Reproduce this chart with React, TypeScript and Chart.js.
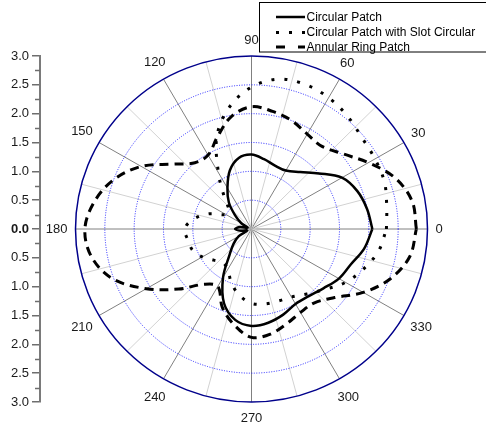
import React, { useEffect, useRef } from 'react';
import { Chart, registerables } from 'chart.js';

Chart.register(...registerables);

// ---------- data ----------
const ANGLES = [0, 10, 20, 30, 40, 50, 60, 70, 80, 90, 100, 110, 120, 130, 140, 150, 160, 170,
  180, 190, 200, 210, 220, 230, 240, 250, 260, 270, 280, 290, 300, 310, 320, 330, 340, 350];

const CIRCULAR_PATCH = [2.06, 2.0, 1.92, 1.78, 1.5, 1.29, 1.17, 1.17, 1.23, 1.29, 1.25, 1.08,
  0.82, 0.6, 0.36, 0.2, 0.07, 0.2, 0.28, 0.18, 0.08, 0.25, 0.4, 0.58, 0.97, 1.37, 1.6, 1.68,
  1.65, 1.58, 1.5, 1.52, 1.6, 1.72, 1.8, 1.95];

const SLOT_CIRCULAR = [2.3, 2.34, 2.41, 2.43, 2.46, 2.55, 2.63, 2.67, 2.64, 2.46, 2.15, 1.72,
  1.13, 0.72, 0.5, 0.5, 0.77, 1.0, 1.14, 1.1, 1.07, 0.97, 0.84, 0.76, 0.81, 1.0, 1.17, 1.29,
  1.32, 1.33, 1.36, 1.47, 1.63, 1.85, 2.03, 2.2];

const ANNULAR_RING = [2.81, 2.78, 2.6, 2.3, 2.03, 1.87, 1.9, 2.0, 2.07, 2.12, 1.98, 1.7,
  1.48, 1.5, 1.75, 2.17, 2.5, 2.72, 2.84, 2.77, 2.52, 2.07, 1.62, 1.25, 1.15, 1.45, 1.69, 1.88,
  1.85, 1.75, 1.67, 1.67, 1.85, 2.2, 2.52, 2.74];

const SERIES_NAMES = ['Circular Patch', 'Circular Patch with Slot Circular', 'Annular Ring Patch'];
const ANGLE_LABELS = [0, 30, 60, 90, 120, 150, 180, 210, 240, 270, 300, 330];
const RADIAL_RINGS = [0.5, 1.0, 1.5, 2.0, 2.5];
const R_MAX = 3;

// ---------- layout constants ----------
const FONT = '"Liberation Sans", Arial, Helvetica, sans-serif';
const CX_PX = 251.5;
const KX = 176 / 3;
const AREA_LEFT = 40;
const AREA_RIGHT = 486;
const X_MIN = (AREA_LEFT - CX_PX) / KX;
const X_MAX = (AREA_RIGHT - CX_PX) / KX;

function toXY(r: number[]) {
  const pts = ANGLES.map((a, i) => ({
    x: r[i] * Math.cos((a * Math.PI) / 180),
    y: r[i] * Math.sin((a * Math.PI) / 180),
  }));
  pts.push({ ...pts[0] });
  return pts;
}

const polarGrid = {
  id: 'polarGrid',
  beforeDatasetsDraw(chart: any) {
    const { ctx, scales } = chart;
    const x = scales.x;
    const y = scales.y;
    const cx = x.getPixelForValue(0);
    const cy = y.getPixelForValue(0);
    const rx = (v: number) => x.getPixelForValue(v) - cx;
    const ry = (v: number) => cy - y.getPixelForValue(v);
    ctx.save();
    // radial spokes
    for (let a = 0; a < 360; a += 15) {
      const major = a % 30 === 0;
      const t = (a * Math.PI) / 180;
      ctx.strokeStyle = major ? '#808080' : '#d2d2d2';
      ctx.lineWidth = 1;
      ctx.beginPath();
      ctx.moveTo(cx, cy);
      ctx.lineTo(x.getPixelForValue(R_MAX * Math.cos(t)), y.getPixelForValue(R_MAX * Math.sin(t)));
      ctx.stroke();
    }
    // dotted rings
    ctx.strokeStyle = '#2323ff';
    ctx.lineWidth = 1;
    ctx.setLineDash([1, 1.5]);
    RADIAL_RINGS.forEach((r) => {
      ctx.beginPath();
      ctx.ellipse(cx, cy, rx(r), ry(r), 0, 0, Math.PI * 2);
      ctx.stroke();
    });
    ctx.setLineDash([]);
    // outer ring
    ctx.strokeStyle = '#00008b';
    ctx.lineWidth = 1.5;
    ctx.beginPath();
    ctx.ellipse(cx, cy, rx(R_MAX), ry(R_MAX), 0, 0, Math.PI * 2);
    ctx.stroke();
    // angle labels
    ctx.fillStyle = '#1a1a1a';
    ctx.font = `13px ${FONT}`;
    ctx.textAlign = 'center';
    ctx.textBaseline = 'middle';
    ANGLE_LABELS.forEach((a) => {
      const t = (a * Math.PI) / 180;
      const txt = String(a);
      const w = ctx.measureText(txt).width;
      const h = 9.4;
      const d = 184 + Math.abs(Math.cos(t)) * w / 2 + Math.abs(Math.sin(t)) * h / 2;
      ctx.fillText(txt, cx + d * Math.cos(t), cy - d * Math.sin(t) + 0.5);
    });
    ctx.restore();
  },
  afterDraw(chart: any) {
    const { ctx, scales, chartArea } = chart;
    const y = scales.y;
    ctx.save();
    // minor ticks on left axis
    ctx.strokeStyle = '#6e6e6e';
    ctx.lineWidth = 1.5;
    for (let v = -2.75; v <= 2.8; v += 0.5) {
      const py = Math.round(y.getPixelForValue(v)) + 0.5;
      ctx.beginPath();
      ctx.moveTo(chartArea.left - 5, py);
      ctx.lineTo(chartArea.left, py);
      ctx.stroke();
    }
    // legend
    ctx.strokeStyle = '#000';
    ctx.lineWidth = 1;
    ctx.strokeRect(259.5, 2.5, 240, 49.5);
    const rows = [17, 32.5, 47];
    const legendDash = [[], [3, 10], [9, 13]];
    chart.data.datasets.forEach((ds: any, i: number) => {
      ctx.strokeStyle = '#000';
      ctx.lineWidth = ds.borderWidth;
      ctx.lineCap = 'butt';
      ctx.setLineDash(legendDash[i]);
      ctx.beginPath();
      ctx.moveTo(276, rows[i]);
      ctx.lineTo(305, rows[i]);
      ctx.stroke();
      ctx.setLineDash([]);
      ctx.fillStyle = '#000';
      ctx.font = `12px ${FONT}`;
      ctx.textAlign = 'left';
      ctx.textBaseline = 'middle';
      ctx.fillText(ds.label, 306.5, rows[i] + 0.5);
    });
    ctx.restore();
  },
};

export default function App() {
  const ref = useRef<HTMLCanvasElement>(null);
  useEffect(() => {
    if (!ref.current) return;
    const chart = new Chart(ref.current, {
      type: 'scatter',
      data: {
        datasets: [
          {
            label: SERIES_NAMES[0],
            data: toXY(CIRCULAR_PATCH),
            showLine: true,
            borderColor: '#000',
            borderWidth: 2.5,
            pointRadius: 0,
            tension: 0.35,
            fill: false,
          },
          {
            label: SERIES_NAMES[1],
            data: toXY(SLOT_CIRCULAR),
            showLine: true,
            borderColor: '#000',
            borderWidth: 3,
            borderDash: [3, 10],
            pointRadius: 0,
            tension: 0.35,
            fill: false,
          },
          {
            label: SERIES_NAMES[2],
            data: toXY(ANNULAR_RING),
            showLine: true,
            borderColor: '#000',
            borderWidth: 3,
            borderDash: [9, 6],
            pointRadius: 0,
            tension: 0.35,
            fill: false,
          },
        ],
      },
      options: {
        animation: false,
        responsive: false,
        maintainAspectRatio: false,
        devicePixelRatio: 1,
        layout: { padding: { top: 56, bottom: 26, left: 0, right: 0 } },
        plugins: {
          legend: { display: false },
          tooltip: { enabled: false },
        },
        scales: {
          x: { type: 'linear', display: false, min: X_MIN, max: X_MAX },
          y: {
            type: 'linear',
            position: 'left',
            min: -R_MAX,
            max: R_MAX,
            afterFit: (s: any) => {
              s.width = AREA_LEFT;
            },
            ticks: {
              stepSize: 0.5,
              autoSkip: false,
              padding: 3,
              color: '#1a1a1a',
              font: (c: any) => ({
                family: FONT,
                size: 13,
                weight: c.tick && Math.abs(c.tick.value) < 1e-9 ? 'bold' : 'normal',
              }),
              callback: (v: any) => Math.abs(Number(v)).toFixed(1),
            },
            grid: { drawOnChartArea: false, tickLength: 8, color: '#6e6e6e', lineWidth: 1.5 },
            border: { color: '#7a7a7a', width: 2 },
          },
        },
      } as any,
      plugins: [polarGrid],
    });
    return () => chart.destroy();
  }, []);
  return (
    <div style={{ position: 'fixed', left: 0, top: 0, width: 486, height: 428, background: '#fff' }}>
      <canvas ref={ref} width={486} height={428} style={{ display: 'block', width: 486, height: 428 }} />
    </div>
  );
}
